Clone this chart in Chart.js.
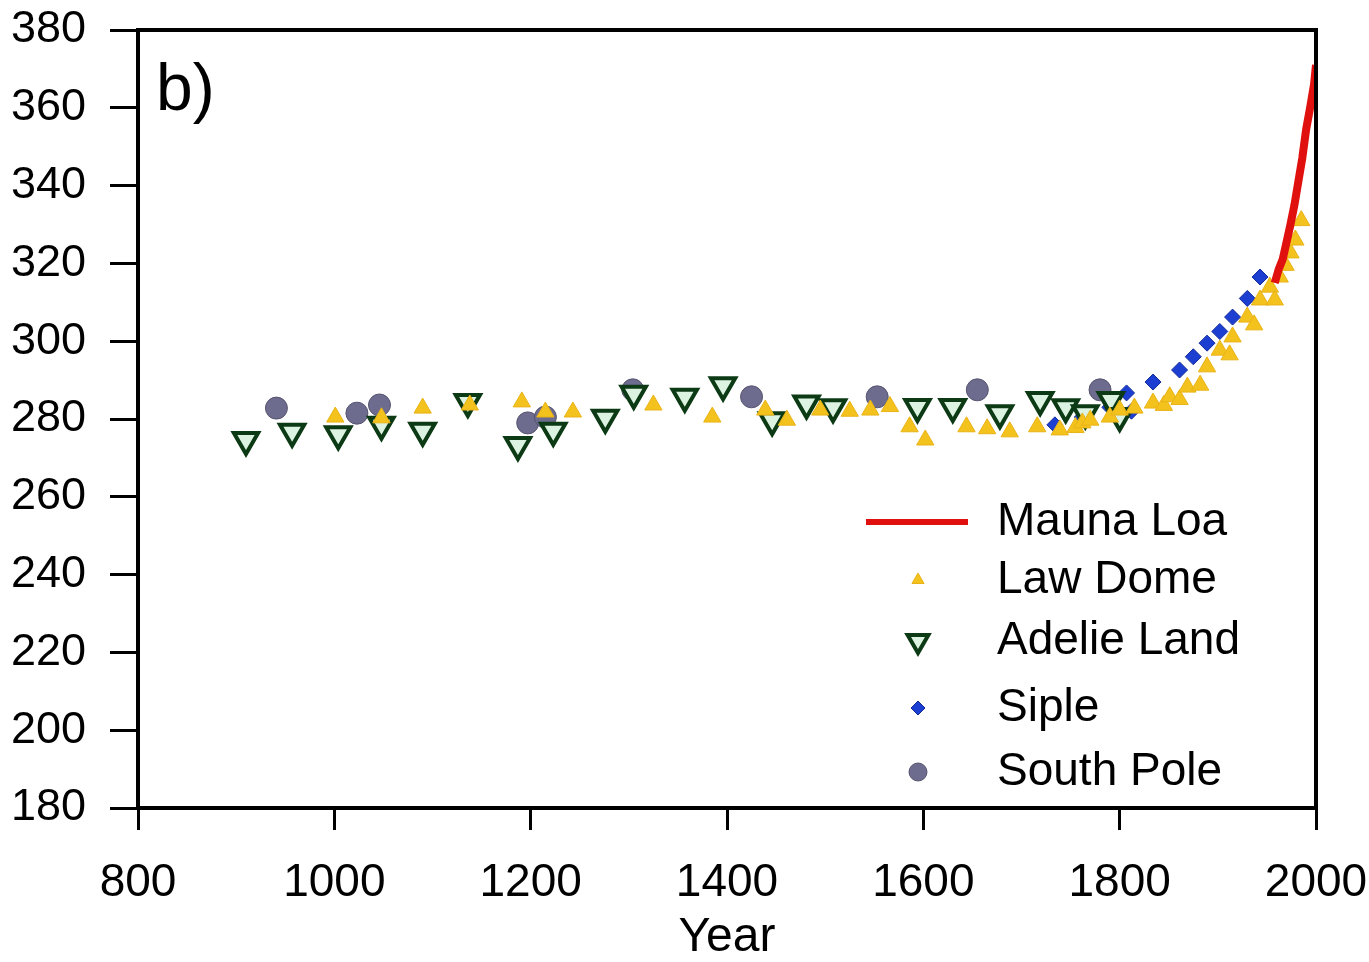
<!DOCTYPE html>
<html>
<head>
  <title>CO2 ice core records</title>
  <script src="https://cdn.jsdelivr.net/npm/chart.js"></script>
  <style>
    body { margin: 0; background: #fff; }
    #co2Chart { display: block; }
  </style>
</head>
<body>
  <canvas id="co2Chart" width="1369" height="962"></canvas>

  <script>
    // Axis ticks
    const xTicks = [800, 1000, 1200, 1400, 1600, 1800, 2000];
    const yTicks = [180, 200, 220, 240, 260, 280, 300, 320, 340, 360, 380];

    // Mauna Loa (instrumental record)
    const maunaLoaYears = [1958, 1962, 1966, 1970, 1974, 1978, 1982, 1986, 1990, 1994, 1998, 2000];
    const maunaLoaCO2 = [315, 318.5, 321, 325.5, 330, 335, 341, 347, 354.5, 360, 366, 371];

    // Law Dome
    const lawDomeYears = [1001, 1048, 1090, 1138, 1191, 1215, 1243, 1325, 1385, 1439, 1461, 1495, 1525, 1546, 1566,
      1586, 1602, 1644, 1665, 1688, 1716, 1739, 1755, 1762, 1770, 1790, 1800, 1815, 1834, 1845, 1851, 1861,
      1869, 1882, 1889, 1902, 1912, 1915, 1930, 1937, 1943, 1953, 1958, 1963, 1969, 1974, 1979, 1985];
    const lawDomeCO2 = [280.5, 280.3, 282.8, 283.6, 284.4, 281.8, 281.8, 283.6, 280.5, 282.3, 279.7, 282.3, 282, 282.3, 283.2,
      278, 274.6, 278, 277.5, 276.7, 278, 277.2, 277.8, 279, 279.7, 280.5, 282.3, 282.8, 284.1, 283.5, 285.7, 285,
      288.2, 288.7, 293.4, 297.7, 296.5, 301.1, 306.2, 304.2, 310.6, 313.9, 310.6, 316.5, 319.5, 322.7, 326, 331];

    // Adelie Land
    const adelieYears = [910, 957, 1004, 1048, 1090, 1136, 1187, 1223, 1276, 1305, 1357, 1396, 1446, 1481, 1508,
      1594, 1630, 1678, 1719, 1745, 1765, 1791, 1800];
    const adelieCO2 = [274.6, 276.7, 276.1, 278.5, 277, 284.4, 273.3, 277, 280.3, 286.5, 285.7, 288.7, 279.7, 284, 283,
      283.1, 283.1, 281.5, 284.9, 283, 281.5, 284.9, 280.8];

    // Siple
    const sipleYears = [1734, 1762, 1790, 1807, 1812, 1834, 1861, 1875, 1889, 1902, 1915, 1930, 1943];
    const sipleCO2 = [278.5, 280.5, 283, 286.7, 282, 289.5, 292.6, 296, 299.5, 302.5, 306.2, 311, 316.5];

    // South Pole
    const southPoleYears = [941, 1023, 1046, 1197, 1215, 1304, 1425, 1553, 1655, 1780];
    const southPoleCO2 = [282.8, 281.5, 283.6, 279, 280.5, 287.5, 285.7, 285.7, 287.5, 287.5];

    function toPoints(xs, ys) {
      return xs.map((x, i) => ({ x: x, y: ys[i] }));
    }

    const FONT = "'Liberation Sans', Arial, sans-serif";

    // box round the plot (top + right sides) and the "b)" panel tag
    const framePlugin = {
      id: 'frame',
      afterDraw(chart) {
        const { ctx, chartArea: a } = chart;
        ctx.save();
        ctx.strokeStyle = '#000';
        ctx.lineWidth = 4;
        ctx.beginPath();
        ctx.moveTo(a.left, a.top);
        ctx.lineTo(a.right, a.top);
        ctx.lineTo(a.right, a.bottom);
        ctx.stroke();
        ctx.fillStyle = '#000';
        ctx.font = '66px ' + FONT;
        ctx.textBaseline = 'middle';
        ctx.fillText('b)', a.left + 18, a.top + 62);
        ctx.restore();
      }
    };

    // legend in lower right corner of plot
    const legendPlugin = {
      id: 'insetLegend',
      afterDraw(chart) {
        const { ctx, chartArea: a } = chart;
        const symX = a.right - 398;
        const textX = a.right - 319;
        const rowY = [a.top + 492, a.top + 550, a.top + 611, a.top + 678, a.top + 742];
        const legendSize = [0, 7, 12, 7, 9];
        ctx.save();
        chart.data.datasets.forEach((ds, i) => {
          const y = rowY[i];
          if (ds.showLine) {
            ctx.strokeStyle = ds.borderColor;
            ctx.lineWidth = 6;
            ctx.beginPath();
            ctx.moveTo(symX - 52, y);
            ctx.lineTo(symX + 50, y);
            ctx.stroke();
          } else {
            ctx.fillStyle = ds.backgroundColor;
            ctx.strokeStyle = ds.borderColor;
            ctx.lineWidth = ds.borderWidth;
            Chart.helpers.drawPoint(ctx, {
              pointStyle: ds.pointStyle,
              radius: legendSize[i],
              rotation: ds.pointRotation || 0,
              borderWidth: ds.borderWidth
            }, symX, y);
          }
          ctx.fillStyle = '#000';
          ctx.font = '46px ' + FONT;
          ctx.textBaseline = 'middle';
          ctx.textAlign = 'left';
          ctx.fillText(ds.label, textX, y);
        });
        ctx.restore();
      }
    };

    const ctx = document.getElementById('co2Chart').getContext('2d');
    const chart = new Chart(ctx, {
      type: 'scatter',
      data: {
        datasets: [
          {
            label: 'Mauna Loa',
            data: toPoints(maunaLoaYears, maunaLoaCO2),
            showLine: true,
            borderColor: '#e0100e',
            borderWidth: 8,
            pointRadius: 0,
            fill: false
          },
          {
            label: 'Law Dome',
            data: toPoints(lawDomeYears, lawDomeCO2),
            pointStyle: 'triangle',
            pointRadius: 10,
            backgroundColor: '#f4c21c',
            borderColor: '#e9b318',
            borderWidth: 1
          },
          {
            label: 'Adelie Land',
            data: toPoints(adelieYears, adelieCO2),
            pointStyle: 'triangle',
            pointRotation: 180,
            pointRadius: 14,
            backgroundColor: '#dcf3e2',
            borderColor: '#0c3a14',
            borderWidth: 4
          },
          {
            label: 'Siple',
            data: toPoints(sipleYears, sipleCO2),
            pointStyle: 'rectRot',
            pointRadius: 8,
            backgroundColor: '#1c3fd2',
            borderColor: '#142c9a',
            borderWidth: 1
          },
          {
            label: 'South Pole',
            data: toPoints(southPoleYears, southPoleCO2),
            pointStyle: 'circle',
            pointRadius: 11,
            backgroundColor: '#6d6c8e',
            borderColor: '#55546e',
            borderWidth: 1
          }
        ]
      },
      options: {
        responsive: false,
        animation: false,
        layout: { padding: { top: 30, right: 53, left: 0, bottom: 0 } },
        plugins: {
          legend: { display: false },
          tooltip: { enabled: false }
        },
        scales: {
          x: {
            type: 'linear',
            min: 800,
            max: 2000,
            afterBuildTicks: s => { s.ticks = xTicks.map(v => ({ value: v })); },
            afterFit: s => {
              s.height = 154;
              s.paddingLeft = 0;
              s.paddingRight = 0;
            },
            ticks: {
              color: '#000',
              font: { family: FONT, size: 46 },
              padding: 26,
              maxRotation: 0,
              callback: v => String(v)
            },
            grid: { drawOnChartArea: false, drawTicks: true, tickLength: 22, color: '#000', lineWidth: 3 },
            border: { display: true, color: '#000', width: 4 },
            title: {
              display: true,
              text: 'Year',
              color: '#000',
              font: { family: FONT, size: 48, lineHeight: 1 },
              padding: { top: 0, bottom: 0 }
            }
          },
          y: {
            min: 180,
            max: 380,
            afterBuildTicks: s => { s.ticks = yTicks.map(v => ({ value: v })); },
            afterFit: s => {
              s.width = 138;
              s.paddingTop = 0;
              s.paddingBottom = 0;
            },
            ticks: {
              color: '#000',
              font: { family: FONT, size: 45 },
              padding: 24,
              callback: v => String(v)
            },
            grid: { drawOnChartArea: false, drawTicks: true, tickLength: 28, color: '#000', lineWidth: 3 },
            border: { display: true, color: '#000', width: 4 }
          }
        }
      },
      plugins: [framePlugin, legendPlugin]
    });
  </script>
</body>
</html>
